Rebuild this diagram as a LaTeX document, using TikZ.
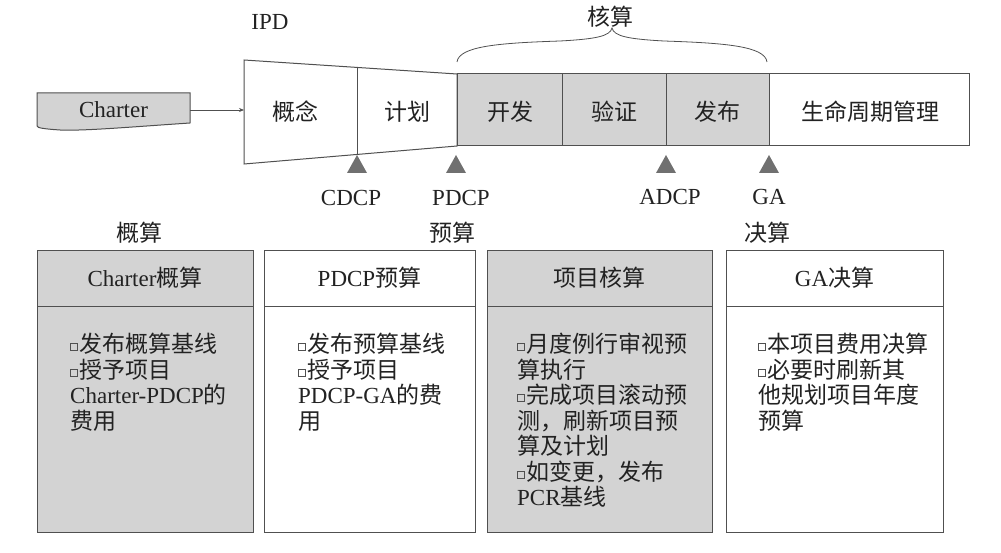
\documentclass[tikz,border=0pt]{standalone}
\usepackage{fontspec}
\setmainfont{Liberation Serif}
\newfontfamily\cjk{Noto Sans CJK SC}
\usetikzlibrary{calc,arrows.meta}
\definecolor{boxgray}{HTML}{D3D3D3}
\definecolor{trigray}{HTML}{707070}
\definecolor{linegray}{HTML}{505050}
\definecolor{txt}{HTML}{222222}
\newcommand\sqb{\raisebox{2.5pt}{\color{linegray}\fboxsep=0pt\fboxrule=0.7pt\fbox{\rule{0pt}{6pt}\hspace{6pt}}}\hspace{1.5pt}}
\tikzset{
  lbl/.style={inner sep=0pt, text=txt},
  phase/.style={inner sep=0pt, text=txt},
  bodytxt/.style={inner sep=0pt, align=left, anchor=north west, text=txt},
  ln/.style={draw=linegray, line width=1pt},
  tri/.style={fill=trigray},
}
\begin{document}
\begin{tikzpicture}[x=1pt,y=-1pt,font=\fontsize{23}{25.5}\selectfont]
\useasboundingbox (0,0) rectangle (1001,553);
% IPD label
\node[lbl] (ipd) at (270,22) {IPD};
% Charter
\path[ln, fill=boxgray] (37,93) -- (190,93) -- (190,123) .. controls (130,127) and (85,131) .. (60,130) .. controls (45,129) and (37,128) .. (37,126) -- cycle;
\node[lbl, minimum width=153pt, minimum height=30pt] (charter) at (113.5,110) {Charter};
\coordinate (ipdin) at (244,110);
\draw[linegray, line width=0.8pt, -{Stealth[length=5pt,width=4pt]}] (charter.east) -- (ipdin);
% trapezoid
\path[ln, fill=white] (244,60) -- (457,74) -- (457,146) -- (244,164) -- cycle;
\draw[ln] ($(244,60)!0.5305!(457,74)$) -- ($(244,164)!0.5305!(457,146)$);
% rectangle
\fill[boxgray] (457,74) rectangle (769,146);
\draw[ln] (457,74) rectangle (969,146);
\foreach \x in {562,666,769} \draw[ln] (\x,74) -- (\x,146);
% phase labels
\node[phase] (p1) at (295,112) {\cjk 概念};
\node[phase] (p2) at (407,112) {\cjk 计划};
\node[phase] (p3) at (510,112) {\cjk 开发};
\node[phase] (p4) at (614,112) {\cjk 验证};
\node[phase] (p5) at (717,112) {\cjk 发布};
\node[phase] (p6) at (870,112) {\cjk 生命周期管理};
% brace
\draw[linegray, line width=0.8pt] (457,62) .. controls (459,46) and (500,43) .. (560,41) .. controls (597,39) and (610,36) .. (612,28) .. controls (614,36) and (627,39) .. (664,41) .. controls (724,43) and (765,46) .. (767,62);
\node[lbl] (hs) at (610,17) {\cjk 核算};
% triangles
\foreach \x in {357,456,666,769} \fill[tri] (\x,155) -- (\x+10,173) -- (\x-10,173) -- cycle;
\node[lbl] (cdcp) at (351,198) {CDCP};
\node[lbl] (pdcp) at (461,198) {PDCP};
\node[lbl] (adcp) at (670,197) {ADCP};
\node[lbl] (ga) at (769,197) {GA};
% section labels
\node[lbl] (gs) at (139,233) {\cjk 概算};
\node[lbl] (ys) at (452,233) {\cjk 预算};
\node[lbl] (js) at (767,233) {\cjk 决算};
% boxes
\path[ln, fill=boxgray] (37,251) rectangle (253,532);
\draw[ln] (37,306) -- (253,306);
\path[ln, fill=white] (264,251) rectangle (475,532);
\draw[ln] (264,306) -- (475,306);
\path[ln, fill=boxgray] (487,251) rectangle (712,532);
\draw[ln] (487,306) -- (712,306);
\path[ln, fill=white] (726,251) rectangle (943,532);
\draw[ln] (726,306) -- (943,306);
% headers
\node[lbl] (h1) at (145,278) {Charter{\cjk 概算}};
\node[lbl] (h2) at (369.5,278) {PDCP{\cjk 预算}};
\node[lbl] (h3) at (599.5,278) {\cjk 项目核算};
\node[lbl] (h4) at (834.5,278) {GA{\cjk 决算}};
% bodies
\node[bodytxt] (b1) at (70,333) {\sqb{\cjk 发布概算基线}\\\sqb{\cjk 授予项目}\\{\rmfamily Charter-PDCP}{\cjk 的}\\{\cjk 费用}};
\node[bodytxt] (b2) at (298,333) {\sqb{\cjk 发布预算基线}\\\sqb{\cjk 授予项目}\\{\rmfamily PDCP-GA}{\cjk 的费}\\{\cjk 用}};
\node[bodytxt] (b3) at (517,333) {\sqb{\cjk 月度例行审视预}\\{\cjk 算执行}\\\sqb{\cjk 完成项目滚动预}\\{\cjk 测，刷新项目预}\\{\cjk 算及计划}\\\sqb{\cjk 如变更，发布}\\{\rmfamily PCR}{\cjk 基线}};
\node[bodytxt] (b4) at (758,333) {\sqb{\cjk 本项目费用决算}\\\sqb{\cjk 必要时刷新其}\\{\cjk 他规划项目年度}\\{\cjk 预算}};
\end{tikzpicture}
\end{document}
